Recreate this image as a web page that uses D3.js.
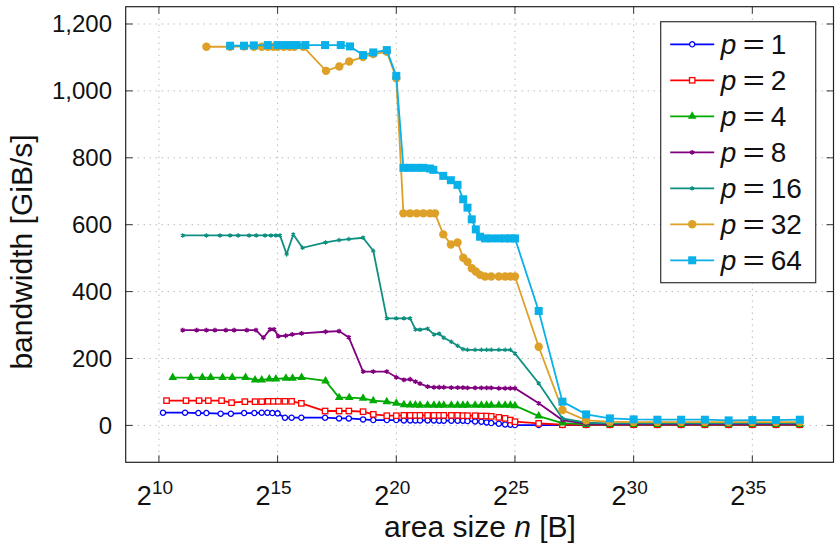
<!DOCTYPE html>
<html>
<head>
<meta charset="utf-8">
<script src="https://cdn.jsdelivr.net/npm/d3@7"></script>
<style>
	body { margin: 0; background: #fff; }
	svg { display: block; font-family: 'Liberation Sans', Arial, sans-serif; }
</style>
</head>
<body>
<svg id="chart" width="835" height="544"></svg>
<script>

// x values are log2 of the area size n [B], y values are bandwidth in GiB/s
const grid20 = [20, 20.32, 20.585, 20.807, 21, 21.32, 21.585, 21.807, 22, 22.32, 22.585, 22.807, 23, 23.32, 23.585, 23.807, 24, 24.32, 24.585, 24.807, 25]
const tail = [26, 27, 28, 29, 30, 31, 32, 33, 34, 35, 36, 37]

const p1Size = [10.17, 11.1, 11.66, 12, 12.6, 13.03, 13.59, 14.02, 14.33, 14.57, 14.78, 15, 15.31, 15.59, 16, 17, 17.59, 18, 18.6, 19.03, 19.6, ...grid20, ...tail]
const p1Bw = [38, 38, 37, 37, 35, 35, 37, 37, 38, 38, 37, 36, 23, 23, 23, 23, 21, 21, 18, 16, 16,
	16, 15, 15, 15, 15, 15, 15, 14, 14, 14, 14, 14, 13, 12, 11, 9, 7, 5, 3, 2, 1,
	1, 1, 1, 1, 1, 1, 1, 1, 1, 1, 1, 1]

const p2Size = [10.32, 11.14, 11.69, 12.08, 12.64, 13.06, 13.62, 14.05, 14.33, 14.6, 14.82, 15.03, 15.31, 15.59, 16, 17, 17.59, 18, 18.6, 19.03, 19.6, ...grid20, ...tail]
const p2Bw = [74, 74, 74, 74, 74, 68, 71, 71, 71, 72, 72, 72, 72, 72, 66, 43, 43, 43, 41, 33, 29,
	29, 30, 30, 30, 30, 30, 30, 30, 30, 30, 30, 29, 29, 29, 28, 28, 27, 24, 21, 16, 11,
	6, 2, 2, 2, 2, 2, 2, 2, 2, 2, 2, 2]

const p4Size = [10.58, 11.34, 11.83, 12.18, 12.68, 13.09, 13.65, 14.05, 14.33, 14.65, 14.93, 15.35, 15.63, 16.01, 17.02, 17.59, 18.02, 18.6, 19.03, 19.6, ...grid20, ...tail]
const p4Bw = [143, 143, 143, 143, 143, 143, 143, 136, 136, 139, 139, 141, 141, 143, 133, 83, 83, 81, 74, 71,
	66, 62, 61, 61, 60, 60, 60, 60, 60, 60, 60, 60, 60, 60, 60, 60, 60, 60, 60, 60, 59,
	28, 7, 3, 3, 3, 3, 3, 3, 3, 3, 3, 3]

const p8Size = [11, 11.59, 12, 12.36, 12.82, 13.17, 13.7, 14.09, 14.4, 14.68, 14.85, 15.03, 15.34, 15.62, 16.01, 17.02, 17.59, 18, 18.6, 19.03, 19.6, ...grid20, ...tail]
const p8Bw = [285, 285, 285, 285, 285, 285, 285, 285, 262, 287, 287, 267, 268, 272, 275, 280, 282, 263, 161, 161, 161,
	144, 136, 138, 131, 125, 116, 114, 114, 114, 113, 113, 113, 112, 112, 112, 112, 112, 111, 111, 111, 111,
	66, 16, 5, 4, 4, 4, 4, 4, 4, 4, 4, 4]

const p16Size = [11, 12, 12.57, 13, 13.34, 13.8, 14.1, 14.47, 14.72, 14.93, 15.1, 15.38, 15.66, 16.05, 17.02, 17.59, 18, 18.6, 19.03, 19.6, ...grid20, ...tail]
const p16Bw = [568, 568, 568, 568, 568, 568, 568, 568, 568, 568, 568, 512, 571, 531, 547, 554, 557, 561, 522, 320,
	320, 320, 320, 287, 286, 289, 272, 274, 262, 250, 238, 228, 226, 226, 226, 226, 226, 226, 226, 226, 215,
	126, 21, 8, 6, 6, 6, 6, 6, 6, 6, 6, 6]

const p32Size = [12, 13, 13.585, 14, 14.33, 14.585, 14.82, 15, 15.26, 15.5, 15.7, 16.08, 17.04, 17.6, 18.02, 18.6, 19.03, 19.6, 20,
	20.3, 20.58, 20.86, 21.14, 21.42, 21.63, 21.98, 22.3, 22.58, 22.82, 23, 23.18, 23.35, 23.53, 23.74, 24, 24.32, 24.585, 24.807, 25, ...tail]
const p32Bw = [1132, 1132, 1133, 1132, 1132, 1132, 1132, 1132, 1132, 1132, 1132, 1132, 1060, 1073, 1088, 1101, 1110, 1117, 1038,
	634, 634, 634, 634, 634, 634, 571, 541, 547, 501, 489, 470, 460, 450, 445, 445, 445, 445, 445, 445,
	235, 46, 15, 11, 10, 10, 10, 10, 10, 10, 10, 10]

const p64Size = [13, 13.585, 14, 14.585, 15, 15.32, 15.585, 15.807, 16.17, 17, 17.66, 18.05, 18.6, 19.03, 19.6, 20,
	20.3, 20.58, 20.86, 21.14, 21.42, 21.56, 21.98, 22.3, 22.58, 22.82, 23, 23.18, 23.35, 23.53, 23.74, 24, 24.32, 24.585, 24.807, 25, ...tail]
const p64Bw = [1135, 1135, 1136, 1137, 1137, 1137, 1137, 1137, 1137, 1137, 1137, 1133, 1107, 1115, 1122, 1045,
	770, 770, 770, 770, 768, 764, 746, 733, 719, 676, 651, 616, 586, 564, 559, 559, 559, 559, 559, 559,
	342, 71, 33, 21, 18, 17, 17, 17, 15, 16, 16, 17]

const seriesNames = ['1', '2', '4', '8', '16', '32', '64']
const xTicks = [10, 15, 20, 25, 30, 35]
const yTicks = [0, 200, 400, 600, 800, 1000, 1200]

const series = [
	{ name: seriesNames[0], size: p1Size, bw: p1Bw, color: '#0000ff', mark: 'ocircle' },
	{ name: seriesNames[1], size: p2Size, bw: p2Bw, color: '#ff0000', mark: 'osquare' },
	{ name: seriesNames[2], size: p4Size, bw: p4Bw, color: '#00aa00', mark: 'triangle' },
	{ name: seriesNames[3], size: p8Size, bw: p8Bw, color: '#800080', mark: 'star' },
	{ name: seriesNames[4], size: p16Size, bw: p16Bw, color: '#0f8f80', mark: 'plus' },
	{ name: seriesNames[5], size: p32Size, bw: p32Bw, color: '#dea026', mark: 'circle' },
	{ name: seriesNames[6], size: p64Size, bw: p64Bw, color: '#0ab0e8', mark: 'square' }
]

const plotLeft = 125.7
const plotRight = 833.5
const plotTop = 6.7
const plotBottom = 462.3

const xScale = d3.scaleLinear()
	.domain([8.6, 38.42])
	.range([plotLeft, plotRight])

const yScale = d3.scaleLinear()
	.domain([-110.3, 1251.7])
	.range([plotBottom, plotTop])

const svg = d3.select('#chart')

// grid
svg.append('g')
	.selectAll('line')
	.data(xTicks)
	.enter()
	.append('line')
	.attr('x1', d => xScale(d))
	.attr('x2', d => xScale(d))
	.attr('y1', plotTop)
	.attr('y2', plotBottom)
	.style('stroke', '#999')
	.style('stroke-width', 1)
	.style('stroke-dasharray', '1,5')

svg.append('g')
	.selectAll('line')
	.data(yTicks)
	.enter()
	.append('line')
	.attr('x1', plotLeft)
	.attr('x2', plotRight)
	.attr('y1', d => yScale(d))
	.attr('y2', d => yScale(d))
	.style('stroke', '#999')
	.style('stroke-width', 1)
	.style('stroke-dasharray', '1,5')

// inward ticks on all sides
const tickLen = 7
const ticks = svg.append('g').style('stroke', '#333').style('stroke-width', 1)
xTicks.forEach(t => {
	ticks.append('line').attr('x1', xScale(t)).attr('x2', xScale(t)).attr('y1', plotBottom).attr('y2', plotBottom - tickLen)
	ticks.append('line').attr('x1', xScale(t)).attr('x2', xScale(t)).attr('y1', plotTop).attr('y2', plotTop + tickLen)
})
yTicks.forEach(t => {
	ticks.append('line').attr('x1', plotLeft).attr('x2', plotLeft + tickLen).attr('y1', yScale(t)).attr('y2', yScale(t))
	ticks.append('line').attr('x1', plotRight).attr('x2', plotRight - tickLen).attr('y1', yScale(t)).attr('y2', yScale(t))
})

// tick labels
const xLab = svg.append('g')
	.selectAll('text')
	.data(xTicks)
	.enter()
	.append('text')
	.attr('x', d => xScale(d) - 4)
	.attr('y', 505)
	.attr('text-anchor', 'middle')
	.style('font-size', '27px')
	.style('fill', '#111')

xLab.append('tspan').text('2')
xLab.append('tspan')
	.attr('dy', -11)
	.style('font-size', '19px')
	.text(d => d)

svg.append('g')
	.selectAll('text')
	.data(yTicks)
	.enter()
	.append('text')
	.attr('x', 112)
	.attr('y', d => yScale(d) + 8.5)
	.attr('text-anchor', 'end')
	.style('font-size', '24px')
	.style('fill', '#111')
	.text(d => d3.format(',')(d))

// axis titles
const xTitle = svg.append('text')
	.attr('x', 480)
	.attr('y', 537)
	.attr('text-anchor', 'middle')
	.style('font-size', '30px')
	.style('fill', '#111')
xTitle.append('tspan').text('area size ')
xTitle.append('tspan').style('font-style', 'italic').text('n')
xTitle.append('tspan').text(' [B]')

svg.append('text')
	.attr('transform', 'translate(32,252) rotate(-90)')
	.attr('text-anchor', 'middle')
	.style('font-size', '30px')
	.style('fill', '#111')
	.text('bandwidth [GiB/s]')

// marks
const drawMark = (sel, mark, color) => {
	if (mark === 'ocircle') {
		sel.append('circle').attr('r', 2.6).style('fill', '#fff').style('stroke', color).style('stroke-width', 1.3)
	} else if (mark === 'osquare') {
		sel.append('rect').attr('x', -2.7).attr('y', -2.7).attr('width', 5.4).attr('height', 5.4)
			.style('fill', '#fff').style('stroke', color).style('stroke-width', 1.3)
	} else if (mark === 'triangle') {
		sel.append('path').attr('d', d3.symbol(d3.symbolTriangle, 32)()).style('fill', color)
	} else if (mark === 'star') {
		sel.append('path').attr('d', d3.symbol(d3.symbolAsterisk, 16)()).style('fill', 'none').style('stroke', color).style('stroke-width', 1.4)
	} else if (mark === 'plus') {
		sel.append('path').attr('d', d3.symbol(d3.symbolAsterisk, 14)()).style('fill', 'none').style('stroke', color).style('stroke-width', 1.2)
	} else if (mark === 'circle') {
		sel.append('circle').attr('r', 4.2).style('fill', color)
	} else {
		sel.append('rect').attr('x', -4).attr('y', -4).attr('width', 8).attr('height', 8).style('fill', color)
	}
}

const line = d3.line()
	.x(d => xScale(d[0]))
	.y(d => yScale(d[1]))
	.curve(d3.curveLinear)

const plot = svg.append('g')

series.forEach(s => {
	const pts = s.size.map((x, i) => [x, s.bw[i]])
	plot.append('path')
		.attr('d', line(pts))
		.style('fill', 'none')
		.style('stroke', s.color)
		.style('stroke-width', 1.8)
	plot.append('g')
		.selectAll('g')
		.data(pts)
		.enter()
		.append('g')
		.attr('transform', d => 'translate(' + xScale(d[0]) + ',' + yScale(d[1]) + ')')
		.each(function () { drawMark(d3.select(this), s.mark, s.color) })
})

// frame
svg.append('rect')
	.attr('x', plotLeft)
	.attr('y', plotTop)
	.attr('width', plotRight - plotLeft)
	.attr('height', plotBottom - plotTop)
	.style('fill', 'none')
	.style('stroke', '#222')
	.style('stroke-width', 1.2)

// legend
const legend = svg.append('g').attr('transform', 'translate(660.7,21.7)')
legend.append('rect')
	.attr('width', 155)
	.attr('height', 261)
	.style('fill', '#fff')
	.style('stroke', '#333')
	.style('stroke-width', 1.2)

const entry = legend.selectAll('g.entry')
	.data(series)
	.enter()
	.append('g')
	.attr('class', 'entry')
	.attr('transform', (d, i) => 'translate(0,' + (22.6 + i * 36) + ')')

entry.append('line')
	.attr('x1', 9.5)
	.attr('x2', 53.5)
	.style('stroke', d => d.color)
	.style('stroke-width', 1.8)

entry.append('g')
	.attr('transform', 'translate(31.5,0)')
	.each(function (d) { drawMark(d3.select(this), d.mark, d.color) })

entry.append('text')
	.attr('x', 60)
	.attr('y', 10)
	.style('font-size', '28px')
	.style('font-style', 'italic')
	.style('fill', '#111')
	.text('p')

entry.append('text')
	.attr('transform', 'translate(82,10) scale(1.35,1)')
	.style('font-size', '28px')
	.style('fill', '#111')
	.text('=')

entry.append('text')
	.attr('x', 110)
	.attr('y', 10)
	.style('font-size', '28px')
	.style('fill', '#111')
	.text(d => d.name)

</script>
</body>
</html>
